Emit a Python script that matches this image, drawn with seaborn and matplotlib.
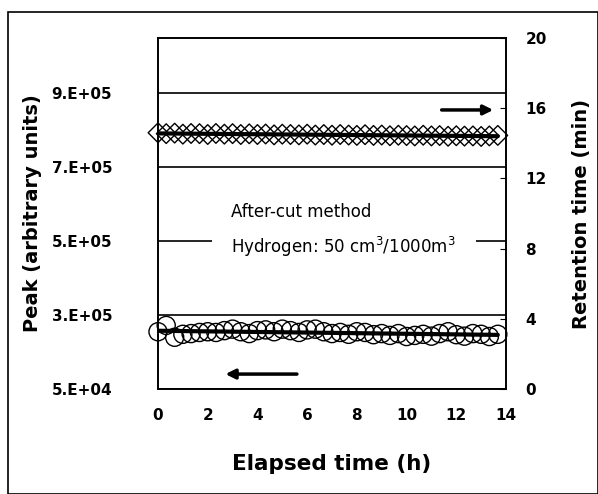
import numpy as np
import matplotlib
matplotlib.use("Agg")
import matplotlib.pyplot as plt
from matplotlib.patches import Rectangle
import seaborn as sns

# elapsed time (h), one reading every 20 min
hours = [0.0, 0.33, 0.67, 1.0, 1.33, 1.67, 2.0, 2.33, 2.67, 3.0, 3.33, 3.67,
         4.0, 4.33, 4.67, 5.0, 5.33, 5.67, 6.0, 6.33, 6.67, 7.0, 7.33, 7.67,
         8.0, 8.33, 8.67, 9.0, 9.33, 9.67, 10.0, 10.33, 10.67, 11.0, 11.33,
         11.67, 12.0, 12.33, 12.67, 13.0, 13.33, 13.67]

# peak area (left axis)
peak = [205000, 222000, 190000, 198000, 200000, 203000, 205000, 203000,
        208000, 212000, 205000, 200000, 208000, 210000, 205000, 212000,
        208000, 203000, 210000, 212000, 205000, 200000, 203000, 198000,
        205000, 203000, 197000, 200000, 195000, 200000, 192000, 195000,
        198000, 193000, 200000, 205000, 197000, 193000, 200000, 198000,
        192000, 198000]

# retention time in min (right axis)
retention = [14.60, 14.55, 14.58, 14.52, 14.56, 14.55, 14.50, 14.56, 14.52,
             14.55, 14.50, 14.54, 14.50, 14.53, 14.48, 14.52, 14.50, 14.48,
             14.52, 14.47, 14.50, 14.46, 14.50, 14.47, 14.45, 14.49, 14.45,
             14.47, 14.43, 14.46, 14.44, 14.42, 14.46, 14.42, 14.44, 14.40,
             14.43, 14.41, 14.42, 14.39, 14.42, 14.45]

left_ticks = [5e4, 2.5e5, 4.5e5, 6.5e5, 8.5e5]
left_labels = ["5.E+04", "3.E+05", "5.E+05", "7.E+05", "9.E+05"]
right_ticks = [0, 4, 8, 12, 16, 20]
x_ticks = [0, 2, 4, 6, 8, 10, 12, 14]

sns.set_style("white")
plt.rcParams['font.family'] = ['DejaVu Sans']
plt.rcParams['text.color'] = 'black'
plt.rcParams['axes.labelcolor'] = 'black'
plt.rcParams['xtick.color'] = 'black'
plt.rcParams['ytick.color'] = 'black'

fig = plt.figure(figsize=(5.98, 4.94), dpi=100)
fig.patches.append(Rectangle((8 / 598, 0), 1 - 8 / 598, 1 - 12 / 494,
                             transform=fig.transFigure, fill=False,
                             edgecolor='black', lw=1.2))

ax = fig.add_axes([158 / 598, 1 - 389 / 494, 348 / 598, 351 / 494])
ax2 = ax.twinx()

# left axis: peak
sns.scatterplot(x=hours, y=peak, ax=ax, marker='o', s=170,
                facecolors='none', edgecolor='black', linewidth=1.0,
                zorder=3, clip_on=False)
sns.regplot(x=hours, y=peak, ax=ax, scatter=False, ci=None,
            color='black', line_kws={'lw': 3, 'zorder': 4})
ax.set_ylim(5e4, 1e6)
ax.set_xlim(0, 14)
ax.set_yticks(left_ticks)
ax.set_yticklabels(left_labels)
ax.set_xticks(x_ticks)
ax.grid(axis='y', color='black', lw=1.2)
ax.set_axisbelow(True)
ax.set_xlabel("Elapsed time (h)", fontsize=15.5, fontweight='bold',
              labelpad=22)
ax.set_ylabel("Peak (arbitrary units)", fontsize=14, fontweight='bold',
              labelpad=7)
ax.tick_params(axis='x', labelsize=11, length=0, pad=14)
ax.tick_params(axis='y', labelsize=11, length=0, pad=33)
for lab in ax.get_xticklabels() + ax.get_yticklabels():
    lab.set_fontweight('bold')

# right axis: retention time
sns.scatterplot(x=hours, y=retention, ax=ax2, marker='D', s=100,
                facecolors='none', edgecolor='black', linewidth=1.0,
                zorder=3, clip_on=False)
sns.regplot(x=hours, y=retention, ax=ax2, scatter=False, ci=None,
            color='black', line_kws={'lw': 3, 'zorder': 4})
ax2.set_ylim(0, 20)
ax2.set_yticks(right_ticks)
ax2.set_ylabel("Retention time (min)", fontsize=14, fontweight='bold',
               labelpad=18)
ax2.tick_params(axis='y', labelsize=11, direction='in', length=4, pad=14)
for lab in ax2.get_yticklabels():
    lab.set_fontweight('bold')

for a in (ax, ax2):
    for sp in a.spines.values():
        sp.set_color('black')
        sp.set_linewidth(1.2)

# arrows
ax2.annotate("", xy=(13.6, 15.9), xytext=(11.3, 15.9),
             arrowprops=dict(arrowstyle='-|>', color='black', lw=2.5,
                             mutation_scale=14))
ax2.annotate("", xy=(2.6, 0.85), xytext=(5.7, 0.85),
             arrowprops=dict(arrowstyle='-|>', color='black', lw=2.5,
                             mutation_scale=14))

# annotation text
ax2.text(2.95, 9.0, "After-cut method\nHydrogen: 50 cm$^3$/1000m$^3$",
         fontsize=12, va='center', ha='left', linespacing=1.8,
         bbox=dict(facecolor='white', edgecolor='none', pad=14), zorder=5)

fig.savefig("out.png", dpi=100)
